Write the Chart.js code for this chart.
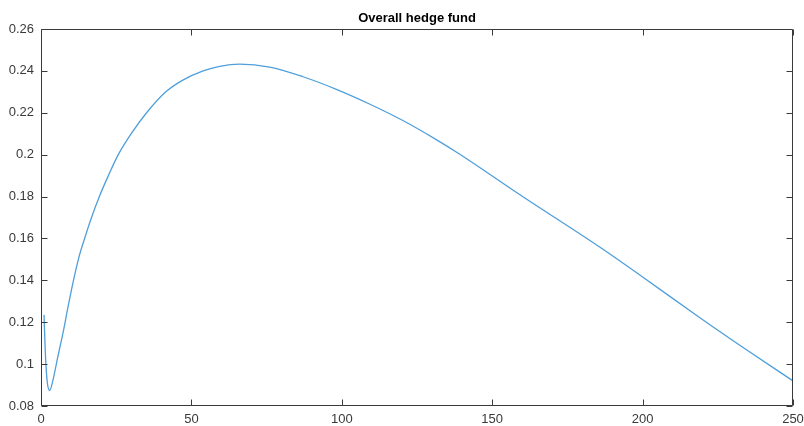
<!DOCTYPE html>
<html>
<head>
<meta charset="utf-8">
<script src="https://cdn.jsdelivr.net/npm/chart.js@4"></script>
<style>
  html, body { margin: 0; padding: 0; background: #fff; overflow: hidden; }
  #wrap { width: 804px; height: 426px; }
</style>
</head>
<body>
<div id="wrap"><canvas id="c" width="804" height="426"></canvas></div>
<script>
const chartTitle = 'Overall hedge fund';
const xValues = [1, 1.4, 2, 2.9, 4, 5.6, 7.3, 9, 10.8, 12.6, 14.5, 16.8, 19.4, 22.4, 25.7, 30, 35.1, 41.5, 47, 53.9, 59.4, 66.1, 76, 87.1, 98.2, 109.2, 120.3, 131.4, 139.1, 160.1, 185.6, 200, 218.8, 235.4, 250];
const yValues = [0.1235, 0.1068, 0.0925, 0.0874, 0.0925, 0.1036, 0.1148, 0.1274, 0.14, 0.151, 0.16, 0.17, 0.18, 0.19, 0.20, 0.21, 0.22, 0.23, 0.2355, 0.24, 0.2422, 0.2432, 0.2418, 0.2372, 0.2312, 0.2242, 0.2163, 0.2072, 0.2003, 0.18, 0.156, 0.1416, 0.1224, 0.106, 0.092];
const xTicks = [0, 50, 100, 150, 200, 250];
const yTicks = [0.08, 0.10, 0.12, 0.14, 0.16, 0.18, 0.20, 0.22, 0.24, 0.26];

const points = xValues.map((x, i) => ({ x: x, y: yValues[i] }));
const axisColor = '#3a3a3a';

const boxTicks = {
  id: 'boxTicks',
  afterDraw(chart) {
    const { ctx, scales } = chart;
    const L = 6;
    ctx.save();
    ctx.strokeStyle = axisColor;
    ctx.lineWidth = 1;
    const l = Math.round(scales.x.getPixelForValue(0)) + 0.5;
    const r = Math.round(scales.x.getPixelForValue(250)) - 0.5;
    const t = Math.round(scales.y.getPixelForValue(0.26)) + 0.5;
    const b = Math.round(scales.y.getPixelForValue(0.08)) - 0.5;
    ctx.beginPath();
    ctx.moveTo(l, t); ctx.lineTo(r, t); ctx.lineTo(r, b); ctx.lineTo(l, b); ctx.closePath();
    xTicks.forEach(v => {
      const px = Math.round(scales.x.getPixelForValue(v)) + 0.5;
      ctx.moveTo(px, b); ctx.lineTo(px, b - L);
      ctx.moveTo(px, t); ctx.lineTo(px, t + L);
    });
    yTicks.forEach(v => {
      const py = Math.round(scales.y.getPixelForValue(v)) + 0.5;
      ctx.moveTo(l, py); ctx.lineTo(l + L, py);
      ctx.moveTo(r, py); ctx.lineTo(r - L, py);
    });
    ctx.stroke();
    ctx.fillStyle = '#000';
    ctx.font = 'bold 13px "Liberation Sans", Arial, sans-serif';
    ctx.textAlign = 'center';
    ctx.textBaseline = 'middle';
    ctx.fillText(chartTitle, (l + r) / 2, t - 11);
    ctx.restore();
  }
};

new Chart(document.getElementById('c'), {
  type: 'scatter',
  data: {
    datasets: [{
      data: points,
      showLine: true,
      borderColor: '#4f9fdb',
      borderWidth: 1.3,
      pointRadius: 0,
      fill: false,
      clip: false,
      cubicInterpolationMode: 'monotone'
    }]
  },
  options: {
    responsive: false,
    animation: false,
    layout: { padding: { left: 0, right: 11, top: 29, bottom: 0 } },
    plugins: {
      legend: { display: false },
      tooltip: { enabled: false },
      title: { display: false }
    },
    scales: {
      x: {
        type: 'linear',
        min: 0, max: 250,
        afterBuildTicks: s => { s.ticks = xTicks.map(v => ({ value: v })); },
        afterFit: s => { s.height = 20; s.paddingLeft = 0; s.paddingRight = 0; },
        grid: { display: false, drawTicks: false },
        border: { display: false },
        ticks: {
          padding: 6,
          color: axisColor,
          font: { family: 'Liberation Sans, Arial, sans-serif', size: 13 },
          maxRotation: 0,
          callback: v => String(v)
        }
      },
      y: {
        type: 'linear',
        min: 0.08, max: 0.26,
        afterBuildTicks: s => { s.ticks = yTicks.map(v => ({ value: v })); },
        afterFit: s => { s.width = 41; s.paddingTop = 0; s.paddingBottom = 0; },
        grid: { display: false, drawTicks: false },
        border: { display: false },
        ticks: {
          padding: 7,
          color: axisColor,
          font: { family: 'Liberation Sans, Arial, sans-serif', size: 13 },
          callback: v => String(Number(v.toFixed(2)))
        }
      }
    }
  },
  plugins: [boxTicks]
});
</script>
</body>
</html>
